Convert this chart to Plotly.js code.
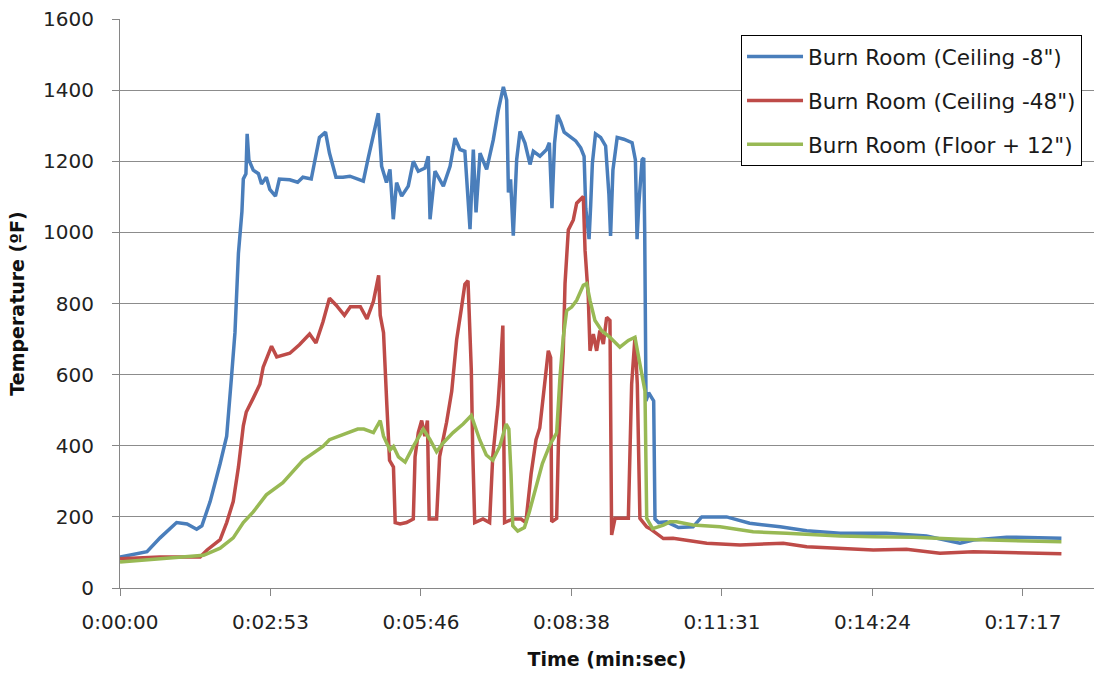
<!DOCTYPE html>
<html>
<head>
<meta charset="utf-8">
<script src="https://cdn.plot.ly/plotly-3.0.1.min.js"></script>
<style>html,body{margin:0;padding:0;background:#fff;}#chart{width:1094px;height:675px;}</style>
</head>
<body>
<div id="chart"></div>
<script>
// Time in seconds, temperature in °F
const seriesNames = ['Burn Room (Ceiling -8")', 'Burn Room (Ceiling -48")', 'Burn Room (Floor + 12")'];

const timeCeil8 = [0,31,46,65,77,88,94,103.5,115,122.5,128,132,136,140,141.6,144.6,146,148,153,159,162.5,168,172,178.5,183,195,204,210,219.6,225,229,236,240.5,248,256,264,279.4,285,290.9,296.6,300.4,306,310,313.8,317.6,323.4,331,336.8,342.5,350.2,354,356,361.7,371.3,379,384.7,390.4,396,401.9,405.7,408.8,413.4,421,428.6,434.4,440.2,444,446,448.5,451.6,455.5,459.3,465,470.8,474.6,482.2,489.9,493,496,499,502.4,506,510,515.7,523.3,529,532.9,534.8,538.6,540.5,542.4,546,551.9,557.6,561.4,563.3,566,570.9,578.5,588,591.8,593.7,595.7,599.5,601.4,602.5,604,607,610,612.8,614.3,618.5,627.7,641.3,658,668,696.6,723,758,788.5,826.7,880,926,941.5,964.5,980,1018,1081];
const tempCeil8 = [87,102,141,184,180,165,175,243,350,427,592,718,942,1058,1150,1165,1277,1204,1175,1165,1136,1155,1121,1102,1150,1148,1141,1155,1150,1223,1267,1282,1223,1155,1155,1158,1144,1209,1270,1335,1186,1140,1177,1037,1140,1102,1130,1200,1172,1181,1214,1037,1172,1130,1186,1265,1233,1228,1009,1233,1056,1223,1177,1260,1344,1409,1372,1112,1149,991,1205,1284,1251,1191,1228,1214,1233,1252,1068,1252,1330,1311,1282,1272,1257,1238,1214,1068,981,1078,1194,1277,1267,1243,1107,990,1175,1267,1262,1252,1204,981,1078,1204,1209,1000,526,549,539,526,194,184,186,170,172,200,200,182,172,161,154,154,146,137,126,135,143,140];

const timeCeil48 = [0,46,92,100,115,122.5,130,136,141.6,145,153,160.6,164.4,174,180,195,206,217.7,225,233,240.5,248,257.7,264.5,276,283.6,291,297,298.8,302.6,306.4,309.5,314,316,321.6,329,336.8,338.8,342.5,346.4,350,353,355,363.5,367,375,380.9,386.6,392,396,399.6,403.4,405,407.3,416.8,424.4,428,434,436.7,439.6,441.6,451,460.5,466,472,477.7,482,488,491.8,494.5,495.7,501.4,503.4,509,511,514.8,520.5,524.4,532,534,537.7,539.7,543.5,547.3,551,555,558.8,562.6,564.5,568.4,583.7,587.5,591.3,594,597,604.8,608.6,623.9,635,673.7,712,761.6,788.5,865,903,941.5,980,1081];
const tempCeil48 = [82,87,87,107,136,184,243,340,456,495,534,573,621,680,650,660,684,714,689,748,815,796,767,791,791,757,806,879,767,718,515,359,340,184,180,184,194,369,437,471,427,471,194,194,369,466,553,699,786,854,864,612,388,184,194,184,369,515,612,738,184,194,194,184,320,417,450,573,667,648,186,196,403,667,856,1007,1035,1082,1101,950,818,667,714,667,724,686,761,752,149,196,196,573,705,573,196,172,167,139,140,126,121,126,116,107,109,98,102,96];

const timeFloor12 = [0,46,96,115,130,141.6,153,168,187,210,233,240.5,256,273,280,291,298.8,302.6,310,314,319.7,327.4,336.8,348.3,356,363.5,371,382.5,394,403.4,413,420.6,428,436,443.4,446.5,449,451,456.7,464.4,470,477.7,485,493.7,501.4,505.2,509,512.9,518.6,524.4,532,535.9,539.7,545.4,553,562.6,574,583.7,591.3,597,602.8,604.8,611.6,623.9,631.5,639,658,689,727,765.5,826.7,865,911,964.5,1018,1081];
const tempFloor12 = [73,82,92,112,141,184,214,262,296,359,398,417,432,447,447,437,471,427,388,398,369,354,398,447,417,383,408,437,461,485,417,374,359,398,461,447,320,175,160,170,214,282,350,403,436,592,705,780,790,809,851,856,809,752,724,705,677,696,705,630,554,196,167,177,186,186,177,172,158,154,146,144,143,137,133,130];

const tickSeconds = [0,172.8,345.6,518.4,691.2,864,1036.8];
const tickLabels = ['0:00:00','0:02:53','0:05:46','0:08:38','0:11:31','0:14:24','0:17:17'];
const yTicks = [0,200,400,600,800,1000,1200,1400,1600];

const colors = ['#4A7EBB', '#BE4B48', '#98B954'];
const xs = [timeCeil8, timeCeil48, timeFloor12];
const ys = [tempCeil8, tempCeil48, tempFloor12];

const traces = seriesNames.map((n, i) => ({
  type: 'scatter', mode: 'lines', name: n,
  x: xs[i], y: ys[i],
  legendgroup: 'g' + i,
  line: {color: colors[i], width: 3.5},
  hoverinfo: 'skip'
}));

const FONT = 'DejaVu Sans';
const layout = {
  width: 1094, height: 675,
  margin: {l: 120, r: 0, t: 19, b: 87},
  paper_bgcolor: '#ffffff', plot_bgcolor: '#ffffff',
  showlegend: true,
  legend: {
    x: 0.6376, y: 0.9719, xanchor: 'left', yanchor: 'top',
    bgcolor: '#ffffff', bordercolor: '#000000', borderwidth: 1,
    font: {family: FONT, size: 21.5, color: '#1a1a1a'},
    traceorder: 'grouped', tracegroupgap: 13, itemwidth: 56
  },
  xaxis: {
    range: [0, 1118.4],
    tickmode: 'array', tickvals: tickSeconds, ticktext: tickLabels,
    showgrid: false, zeroline: false,
    showline: true, linecolor: '#868686', linewidth: 1,
    ticks: 'outside', ticklen: 7, tickcolor: '#868686',
    ticklabelstandoff: 9,
    tickfont: {family: FONT, size: 20, color: '#222222'},
    title: {text: 'Time (min:sec)', font: {family: FONT, size: 19, color: '#111111', weight: 'bold'}, standoff: 19}
  },
  yaxis: {
    range: [0, 1600],
    tickmode: 'array', tickvals: yTicks,
    showgrid: true, gridcolor: '#8c8c8c', gridwidth: 1,
    zeroline: false,
    showline: true, linecolor: '#868686', linewidth: 1,
    ticks: 'outside', ticklen: 7, tickcolor: '#868686',
    ticklabelstandoff: 14,
    tickfont: {family: FONT, size: 20, color: '#222222'},
    title: {text: 'Temperature (ºF)', font: {family: FONT, size: 19, color: '#111111', weight: 'bold'}, standoff: 13}
  }
};

Plotly.newPlot('chart', traces, layout, {displayModeBar: false, staticPlot: true});
</script>
</body>
</html>
